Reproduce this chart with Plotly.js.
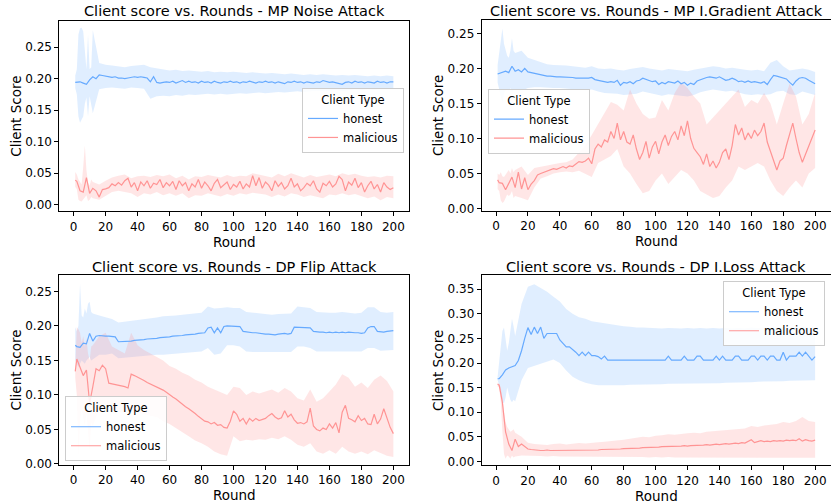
<!DOCTYPE html>
<html>
<head>
<meta charset="utf-8">
<script src="https://cdn.plot.ly/plotly-3.0.1.min.js"></script>
<style>html,body{margin:0;padding:0;background:#fff;}#chart{width:831px;height:504px;}</style>
</head>
<body>
<div id="chart"></div>
<script>
// ---- rounds (x categories) ----
const meanRounds = [1,2,4,6,8,10,12,14,16,18,
  20,22,24,26,28,30,32,34,36,38,
  40,42,44,46,48,50,52,54,56,58,
  60,62,64,66,68,70,72,74,76,78,
  80,82,84,86,88,90,92,94,96,98,
  100,102,104,106,108,110,112,114,116,118,
  120,122,124,126,128,130,132,134,136,138,
  140,142,144,146,148,150,152,154,156,158,
  160,162,164,166,168,170,172,174,176,178,
  180,182,184,186,188,190,192,194,196,198,
  200];
const bandRounds = [1,2,3,4,5,6,7,8,9,10,
  11,12,16,20,24,28,32,36,40,44,
  48,52,56,60,64,68,72,76,80,84,
  88,92,96,100,104,108,112,116,120,124,
  128,132,136,140,144,148,152,156,160,164,
  168,172,176,180,184,188,192,196,200];
const xTicks = [0,20,40,60,80,100,120,140,160,180,200];
const yTicks = [0,0.05,0.10,0.15,0.20,0.25];
const yTicksLoss = [0,0.05,0.10,0.15,0.20,0.25,0.30,0.35];
const seriesNames = ['honest','malicious'];
const titles = [
  'Client score vs. Rounds - MP Noise Attack',
  'Client score vs. Rounds - MP I.Gradient Attack',
  'Client score vs. Rounds - DP Flip Attack',
  'Client score vs. Rounds - DP I.Loss Attack'
];

// ---- MP Noise ----
const noiseHonest = [.194,.194,.195,.193,.191,.198,.203,.200,.206,.205,
  .204,.203,.202,.203,.201,.201,.200,.201,.202,.203,
  .202,.203,.202,.201,.195,.203,.194,.193,.194,.195,
  .194,.196,.193,.195,.197,.194,.196,.194,.195,.193,
  .196,.194,.195,.193,.196,.194,.193,.195,.194,.196,
  .194,.195,.193,.195,.194,.196,.195,.193,.195,.194,
  .196,.194,.195,.193,.195,.194,.192,.195,.194,.196,
  .194,.195,.193,.195,.194,.193,.195,.194,.197,.195,
  .194,.195,.194,.192,.191,.194,.195,.193,.196,.194,
  .195,.193,.195,.194,.193,.196,.194,.195,.193,.195,
  .195];
const noiseMal = [.039,.037,.022,.020,.043,.018,.026,.022,.012,.024,
  .025,.027,.033,.030,.035,.031,.038,.042,.028,.035,
  .022,.036,.030,.038,.026,.034,.032,.040,.027,.035,
  .030,.037,.024,.038,.030,.035,.022,.033,.028,.040,
  .026,.036,.030,.022,.034,.040,.027,.031,.036,.024,
  .032,.028,.037,.025,.033,.028,.046,.030,.043,.026,
  .036,.031,.022,.038,.029,.035,.025,.030,.042,.028,
  .033,.022,.027,.034,.030,.038,.025,.020,.034,.030,
  .037,.028,.033,.045,.040,.022,.036,.031,.042,.027,
  .035,.020,.030,.037,.025,.032,.020,.035,.028,.024,
  .027];
const noiseHonestUp = [.205,.215,.270,.280,.281,.275,.245,.215,.270,.215,
  .218,.277,.225,.222,.221,.219,.218,.220,.221,.222,
  .218,.216,.214,.213,.214,.212,.213,.212,.211,.212,
  .210,.211,.210,.211,.210,.209,.210,.209,.208,.209,
  .208,.207,.208,.207,.206,.207,.206,.207,.206,.205,
  .206,.205,.206,.205,.204,.205,.204,.205,.204];
const noiseHonestLo = [.185,.175,.140,.130,.135,.140,.160,.170,.140,.172,
  .160,.145,.183,.185,.186,.185,.184,.186,.185,.184,
  .168,.172,.173,.172,.174,.173,.175,.174,.175,.176,
  .175,.176,.175,.176,.177,.176,.177,.178,.177,.178,
  .179,.178,.179,.180,.179,.180,.181,.180,.181,.182,
  .180,.182,.183,.182,.183,.182,.183,.184,.183];
const noiseMalUp = [.052,.048,.040,.035,.032,.060,.094,.055,.035,.030,
  .040,.036,.032,.038,.043,.046,.048,.042,.045,.046,
  .044,.047,.045,.048,.042,.046,.040,.045,.044,.047,
  .045,.043,.047,.044,.046,.045,.050,.048,.046,.043,
  .049,.045,.050,.046,.043,.047,.044,.046,.048,.045,
  .050,.047,.049,.046,.044,.045,.043,.046,.045];
const noiseMalLo = [.028,.025,.008,.006,.005,.008,.012,.015,.006,.008,
  .012,.010,.008,.014,.020,.022,.020,.018,.012,.018,
  .016,.020,.015,.018,.014,.018,.010,.015,.014,.018,
  .015,.013,.017,.014,.018,.016,.019,.017,.016,.012,
  .016,.013,.018,.016,.012,.015,.012,.010,.016,.015,
  .018,.015,.017,.014,.010,.013,.007,.012,.010];

// ---- MP I.Gradient ----
const gradHonest = [.192,.193,.195,.196,.194,.203,.196,.198,.195,.200,
  .195,.194,.193,.191,.190,.189,.189,.189,.188,.188,
  .188,.188,.187,.188,.187,.186,.186,.186,.185,.186,
  .187,.184,.183,.182,.181,.180,.181,.180,.183,.176,
  .180,.179,.181,.178,.182,.183,.186,.184,.183,.181,
  .182,.177,.180,.178,.181,.180,.179,.182,.178,.180,
  .176,.179,.177,.182,.184,.186,.187,.188,.187,.186,
  .188,.186,.183,.184,.186,.184,.181,.182,.180,.182,
  .180,.181,.180,.179,.181,.177,.184,.190,.189,.188,
  .187,.185,.180,.176,.182,.186,.187,.186,.183,.180,
  .178];
const gradMal = [.041,.037,.036,.027,.036,.045,.030,.052,.028,.044,
  .027,.035,.040,.048,.050,.052,.053,.055,.057,.056,
  .058,.060,.058,.061,.060,.063,.067,.066,.068,.072,
  .064,.085,.092,.088,.098,.095,.110,.100,.122,.098,
  .110,.095,.092,.105,.085,.070,.080,.096,.072,.088,
  .096,.078,.095,.105,.090,.103,.110,.098,.118,.104,
  .125,.100,.086,.080,.074,.063,.078,.060,.068,.058,
  .066,.080,.085,.070,.090,.120,.105,.115,.098,.108,
  .100,.112,.104,.110,.122,.095,.082,.068,.055,.068,
  .072,.090,.105,.122,.100,.080,.066,.078,.090,.100,
  .112];
const gradHonestUp = [.205,.220,.240,.257,.235,.225,.218,.215,.225,.243,
  .225,.222,.225,.215,.212,.208,.206,.205,.205,.204,
  .203,.202,.201,.203,.200,.199,.200,.198,.197,.199,
  .200,.202,.200,.198,.197,.199,.198,.197,.196,.198,
  .200,.202,.203,.202,.200,.201,.199,.198,.197,.198,
  .196,.208,.212,.203,.197,.198,.200,.198,.195];
const gradHonestLo = [.180,.170,.160,.150,.165,.168,.170,.168,.172,.165,
  .170,.170,.168,.172,.173,.173,.173,.172,.172,.171,
  .171,.170,.169,.170,.167,.165,.164,.164,.162,.163,
  .164,.167,.166,.163,.161,.163,.162,.161,.160,.162,
  .166,.168,.170,.169,.167,.168,.165,.163,.162,.163,
  .162,.163,.167,.168,.163,.162,.167,.164,.162];
const gradMalUp = [.050,.048,.052,.046,.045,.048,.052,.055,.050,.058,
  .052,.055,.060,.048,.058,.060,.062,.064,.065,.066,
  .070,.080,.090,.105,.120,.135,.152,.148,.140,.170,
  .150,.135,.128,.130,.155,.140,.165,.180,.172,.160,
  .150,.120,.130,.140,.150,.160,.170,.145,.155,.150,
  .165,.150,.120,.150,.178,.160,.120,.135,.165];
const gradMalLo = [.028,.025,.012,.008,.010,.015,.020,.018,.020,.025,
  .015,.018,.015,.012,.030,.043,.046,.050,.052,.053,
  .052,.054,.050,.045,.065,.070,.075,.085,.060,.050,
  .035,.022,.025,.040,.050,.035,.045,.055,.050,.040,
  .025,.020,.015,.018,.030,.040,.060,.055,.060,.065,
  .060,.040,.025,.018,.030,.040,.030,.050,.058];

// ---- DP Flip ----
const flipHonest = [.172,.170,.169,.175,.174,.189,.178,.185,.186,.185,
  .185,.185,.185,.184,.177,.177,.177,.178,.178,.179,
  .179,.180,.180,.181,.181,.182,.182,.183,.183,.184,
  .184,.185,.185,.186,.186,.187,.187,.188,.188,.189,
  .189,.190,.197,.198,.190,.197,.190,.199,.200,.200,
  .200,.199,.199,.192,.191,.190,.190,.190,.189,.189,
  .188,.188,.187,.187,.188,.189,.189,.188,.189,.198,
  .198,.198,.198,.198,.197,.192,.191,.191,.191,.190,
  .191,.190,.191,.190,.191,.190,.191,.190,.190,.190,
  .189,.190,.197,.199,.199,.192,.191,.191,.192,.192,
  .193];
const flipMal = [.134,.152,.140,.128,.136,.088,.112,.138,.135,.143,
  .138,.117,.116,.115,.115,.114,.112,.110,.130,.128,
  .126,.124,.121,.118,.116,.113,.111,.109,.107,.104,
  .100,.097,.094,.090,.087,.083,.080,.077,.073,.069,
  .066,.062,.061,.058,.060,.056,.057,.053,.052,.062,
  .077,.072,.062,.066,.058,.066,.062,.066,.063,.065,
  .066,.070,.073,.068,.065,.067,.077,.068,.072,.064,
  .059,.060,.058,.061,.081,.055,.050,.048,.052,.050,
  .058,.052,.060,.045,.075,.085,.066,.064,.061,.070,
  .063,.066,.058,.057,.072,.058,.065,.080,.065,.053,
  .044];
const flipHonestUp = [.198,.192,.200,.261,.215,.212,.225,.218,.232,.235,
  .220,.218,.215,.212,.210,.205,.206,.207,.208,.210,
  .211,.212,.214,.214,.215,.216,.217,.218,.219,.228,
  .225,.226,.227,.226,.226,.220,.219,.218,.217,.216,
  .217,.218,.218,.228,.227,.226,.220,.219,.219,.219,
  .220,.219,.218,.219,.227,.227,.220,.219,.220];
const flipHonestLo = [.150,.145,.140,.145,.150,.148,.145,.150,.152,.155,
  .150,.152,.158,.158,.160,.153,.153,.155,.155,.156,
  .157,.158,.158,.159,.160,.160,.161,.162,.163,.168,
  .158,.160,.172,.172,.170,.163,.162,.162,.161,.161,
  .162,.162,.162,.170,.170,.168,.163,.163,.163,.163,
  .163,.163,.163,.163,.168,.168,.164,.164,.165];
const flipMalUp = [.140,.198,.195,.190,.175,.185,.170,.182,.160,.150,
  .170,.172,.185,.190,.170,.165,.160,.190,.172,.165,
  .160,.155,.150,.142,.138,.132,.128,.122,.118,.112,
  .108,.104,.100,.112,.110,.100,.105,.102,.105,.108,
  .103,.110,.105,.095,.092,.108,.090,.095,.105,.115,
  .130,.125,.112,.118,.110,.122,.128,.120,.105];
const flipMalLo = [.125,.100,.010,.060,.080,.070,.055,.075,.050,.020,
  .060,.055,.080,.085,.078,.076,.074,.078,.075,.072,
  .070,.068,.062,.058,.052,.046,.040,.034,.030,.025,
  .018,.014,.012,.040,.033,.035,.034,.036,.035,.038,
  .036,.040,.035,.028,.025,.030,.018,.015,.020,.015,
  .025,.018,.015,.018,.014,.020,.016,.012,.010];

// ---- DP I.Loss ----
const lossHonest = [.168,.168,.176,.186,.190,.192,.195,.205,.225,.250,
  .272,.258,.273,.260,.273,.250,.260,.260,.260,.260,
  .247,.240,.233,.233,.228,.222,.215,.222,.215,.222,
  .215,.215,.213,.208,.214,.206,.206,.206,.206,.206,
  .206,.206,.206,.206,.206,.206,.206,.206,.206,.206,
  .206,.206,.206,.206,.214,.206,.206,.206,.206,.214,
  .206,.206,.206,.214,.214,.206,.206,.206,.206,.214,
  .206,.214,.206,.206,.206,.214,.214,.206,.206,.206,
  .214,.214,.206,.214,.214,.206,.214,.214,.206,.206,
  .222,.206,.214,.214,.214,.222,.214,.222,.214,.206,
  .213];
const lossMal = [.157,.155,.120,.060,.035,.022,.045,.030,.035,.030,
  .025,.024,.023,.023,.022,.022,.023,.022,.022,.023,
  .022,.022,.022,.022,.023,.022,.022,.023,.023,.023,
  .023,.023,.023,.024,.024,.024,.024,.025,.025,.025,
  .026,.026,.026,.027,.027,.027,.028,.028,.028,.029,
  .029,.029,.030,.030,.030,.031,.031,.030,.031,.032,
  .031,.032,.032,.033,.032,.033,.034,.033,.034,.035,
  .034,.035,.036,.035,.036,.037,.036,.038,.037,.040,
  .044,.038,.040,.042,.040,.041,.040,.042,.041,.042,
  .041,.043,.042,.043,.042,.046,.041,.044,.042,.041,
  .043];
const lossHonestUp = [.172,.200,.240,.265,.272,.250,.225,.240,.270,.290,
  .275,.255,.320,.355,.360,.352,.345,.335,.325,.310,
  .300,.293,.290,.285,.283,.280,.278,.276,.275,.274,
  .272,.272,.271,.270,.270,.271,.270,.270,.271,.270,
  .271,.270,.271,.270,.271,.270,.271,.270,.272,.271,
  .272,.271,.272,.273,.272,.273,.274,.273,.272];
const lossHonestLo = [.165,.155,.140,.120,.118,.130,.150,.140,.125,.120,
  .125,.122,.165,.190,.195,.198,.203,.207,.200,.185,
  .172,.165,.160,.157,.155,.154,.154,.155,.155,.156,
  .156,.156,.157,.157,.157,.158,.158,.158,.158,.158,
  .159,.159,.159,.159,.160,.160,.160,.161,.161,.162,
  .162,.162,.163,.163,.164,.164,.165,.165,.165];
const lossMalUp = [.160,.158,.150,.130,.100,.080,.070,.065,.060,.062,
  .065,.058,.050,.038,.035,.034,.033,.035,.036,.034,
  .036,.037,.036,.038,.039,.040,.041,.042,.044,.046,
  .048,.050,.049,.052,.053,.055,.054,.056,.057,.058,
  .057,.060,.061,.062,.063,.064,.066,.067,.072,.070,
  .073,.074,.076,.080,.078,.082,.090,.082,.080];
const lossMalLo = [.152,.150,.120,.060,.015,.005,.012,.010,.005,.012,
  .008,.010,.012,.012,.011,.011,.010,.011,.010,.010,
  .010,.010,.010,.010,.010,.009,.010,.009,.009,.009,
  .009,.009,.008,.009,.008,.009,.008,.008,.008,.008,
  .008,.008,.008,.008,.008,.008,.008,.008,.007,.008,
  .007,.007,.007,.007,.007,.007,.007,.007,.007];

// ---- styling ----
const HONEST = '#66aaff', MAL = '#ff9494';
const HONEST_FILL = 'rgba(102,170,255,0.20)', MAL_FILL = 'rgba(255,140,140,0.22)';
const FONT = 'DejaVu Sans, sans-serif';

function band(up, lo, fill, xa, ya) {
  return {
    x: bandRounds.concat(bandRounds.slice().reverse()),
    y: up.concat(lo.slice().reverse()),
    type: 'scatter', mode: 'lines', fill: 'toself', fillcolor: fill,
    line: {width: 0}, hoverinfo: 'skip', showlegend: false, xaxis: xa, yaxis: ya
  };
}
function line(y, color, name, xa, ya, leg) {
  return {
    x: meanRounds, y: y, type: 'scatter', mode: 'lines', name: name,
    line: {color: color, width: 1.2}, xaxis: xa, yaxis: ya, legend: leg
  };
}

const panels = [
  {xa:'x', ya:'y', leg:'legend', h:noiseHonest, m:noiseMal, hu:noiseHonestUp, hl:noiseHonestLo, mu:noiseMalUp, ml:noiseMalLo},
  {xa:'x2', ya:'y2', leg:'legend2', h:gradHonest, m:gradMal, hu:gradHonestUp, hl:gradHonestLo, mu:gradMalUp, ml:gradMalLo},
  {xa:'x3', ya:'y3', leg:'legend3', h:flipHonest, m:flipMal, hu:flipHonestUp, hl:flipHonestLo, mu:flipMalUp, ml:flipMalLo},
  {xa:'x4', ya:'y4', leg:'legend4', h:lossHonest, m:lossMal, hu:lossHonestUp, hl:lossHonestLo, mu:lossMalUp, ml:lossMalLo}
];

const data = [];
panels.forEach(p => {
  data.push(band(p.hu, p.hl, HONEST_FILL, p.xa, p.ya));
  data.push(band(p.mu, p.ml, MAL_FILL, p.xa, p.ya));
  data.push(line(p.h, HONEST, seriesNames[0], p.xa, p.ya, p.leg));
  data.push(line(p.m, MAL, seriesNames[1], p.xa, p.ya, p.leg));
});

function xax(domain, anchor) {
  return {
    domain: domain, anchor: anchor, range: [-8.95, 209.95],
    tickvals: xTicks, ticktext: xTicks.map(String),
    showline: true, mirror: true, linecolor: '#000', linewidth: 1,
    ticks: 'outside', ticklen: 4, tickcolor: '#000', tickwidth: 1,
    showgrid: false, zeroline: false,
    tickfont: {size: 12, color: '#000', family: FONT},
    title: {text: 'Round', font: {size: 13.5, color: '#000', family: FONT}, standoff: 0}
  };
}
function yax(domain, anchor, range, ticks) {
  return {
    domain: domain, anchor: anchor, range: range,
    tickvals: ticks, tickformat: '.2f',
    showline: true, mirror: true, linecolor: '#000', linewidth: 1,
    ticks: 'outside', ticklen: 4, tickcolor: '#000', tickwidth: 1,
    showgrid: false, zeroline: false,
    tickfont: {size: 12, color: '#000', family: FONT},
    title: {text: 'Client Score', font: {size: 13.5, color: '#000', family: FONT}, standoff: 0}
  };
}
function leg(x, xanchor, y, yanchor) {
  return {
    x: x, xanchor: xanchor, y: y, yanchor: yanchor,
    title: {text: 'Client Type', side: 'top center', font: {size: 11.5, color: '#000', family: FONT}},
    bgcolor: 'rgba(255,255,255,0.85)', bordercolor: '#cccccc', borderwidth: 1,
    font: {size: 11.5, color: '#000', family: FONT}, itemwidth: 30, traceorder: 'normal'
  };
}

const L1 = [0.0714, 0.4925], L2 = [0.5797, 1.0];
const annotations = [
  {text: titles[0], x: (L1[0]+L1[1])/2, y: 1 - 11/504},
  {text: titles[1], x: (L2[0]+L2[1])/2, y: 1 - 11/504},
  {text: titles[2], x: (L1[0]+L1[1])/2, y: 1 - 266.5/504},
  {text: titles[3], x: (L2[0]+L2[1])/2, y: 1 - 266.5/504}
].map(a => Object.assign(a, {xref:'paper', yref:'paper', xanchor:'center', yanchor:'middle',
  showarrow:false, font:{size:14.5, color:'#000', family: FONT}}));

const layout = {
  width: 831, height: 504,
  margin: {l: 0, r: 0, t: 0, b: 0},
  paper_bgcolor: '#fff', plot_bgcolor: '#fff',
  font: {family: FONT, color: '#000'},
  xaxis: xax(L1, 'y'),
  yaxis: yax([0.5808, 0.9583], 'x', [-0.0105, 0.2915], yTicks),
  xaxis2: xax(L2, 'y2'),
  yaxis2: yax([0.5819, 0.9603], 'x2', [-0.003, 0.269], yTicks),
  xaxis3: xax(L1, 'y3'),
  yaxis3: yax([0.0780, 0.4538], 'x3', [-0.001, 0.2732], yTicks),
  xaxis4: xax(L2, 'y4'),
  yaxis4: yax([0.0768, 0.4538], 'x4', [-0.0081, 0.3785], yTicksLoss),
  legend: leg(404/831, 'right', 1 - 88/504, 'top'),
  legend2: leg(488/831, 'left', 1 - 88.7/504, 'top'),
  legend3: leg(65/831, 'left', 1 - 461.3/504, 'bottom'),
  legend4: leg(825/831, 'right', 1 - 281.3/504, 'top'),
  annotations: annotations
};

Plotly.newPlot('chart', data, layout, {displayModeBar: false, staticPlot: true});
</script>
</body>
</html>
